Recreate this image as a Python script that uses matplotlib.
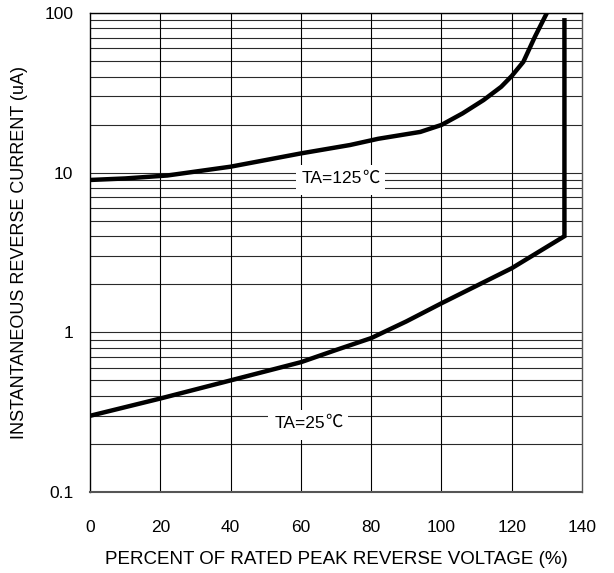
import numpy as np
import matplotlib
matplotlib.use("Agg")
import matplotlib.pyplot as plt
from matplotlib.patches import Rectangle
from matplotlib.transforms import Bbox

plt.rcParams['font.family'] = ['Liberation Sans', 'Noto Sans CJK SC', 'DejaVu Sans']

# values
pct_125 = [0, 10, 22, 40, 60, 74, 82, 94, 100, 106, 112, 117, 120, 123.3, 126.6, 130]
cur_125 = [9.0, 9.2, 9.6, 10.9, 13.2, 14.9, 16.3, 18.0, 19.9, 23.5, 28.5, 34.5, 40.3, 49.4, 71, 100]

pct_25 = [0, 20, 40, 60, 70, 80, 90, 100, 120, 135, 135]
cur_25 = [0.30, 0.385, 0.50, 0.65, 0.775, 0.92, 1.17, 1.52, 2.52, 4.0, 90]

x_ticks = [0, 20, 40, 60, 80, 100, 120, 140]
y_ticks = [0.1, 1, 10, 100]
y_ticklabels = ['0.1', '1', '10', '100']

fig = plt.figure(figsize=(6.14, 5.73), dpi=100)
ax = fig.add_axes([90/614, 1-492/573, 492/614, 479/573])

ax.set_yscale('log')
ax.set_xlim(0, 140)
ax.set_ylim(0.1, 100)

# grid: every minor decade step and every 20 %
for dec in [0.1, 1, 10]:
    for m in range(1, 10):
        ax.axhline(dec*m, color='#2a2a2a', lw=0.8, zorder=1)
ax.axhline(100, color='#2a2a2a', lw=0.8, zorder=1)
for xv in x_ticks[1:-1]:
    ax.axvline(xv, color='black', lw=0.8, zorder=1)

ax.plot(pct_125, cur_125, color='black', lw=3.2, solid_capstyle='butt', zorder=3)
ax.plot(pct_25, cur_25, color='black', lw=3.2, solid_joinstyle='miter', zorder=3)

labels = []
for x, y, txt in [(60.2, 8.57, 'TA=125'), (52.4, 0.252, 'TA=25')]:
    t = ax.text(x, y, txt, fontsize=12.5, ha='left', va='baseline', zorder=4)
    c = ax.annotate('\u2103', xy=(1, 0), xycoords=t, ha='left', va='bottom',
                    fontsize=12.5, family=['Noto Sans CJK SC'], zorder=4)
    labels.append((t, c))

ax.set_xticks(x_ticks)
ax.set_xticklabels([str(v) for v in x_ticks])
ax.set_yticks(y_ticks)
ax.set_yticklabels(y_ticklabels)
ax.yaxis.set_minor_locator(matplotlib.ticker.NullLocator())
ax.tick_params(axis='both', length=0, labelsize=12.5)
ax.tick_params(axis='x', pad=20)
ax.tick_params(axis='y', pad=12)

for s in ax.spines.values():
    s.set_linewidth(1.0)
ax.spines['bottom'].set_color('#555555')
ax.spines['right'].set_color('#555555')
ax.spines['bottom'].set_linewidth(1.5)

ax.set_xlabel('PERCENT OF RATED PEAK REVERSE VOLTAGE (%)', fontsize=13.5, va='top')
ax.xaxis.set_label_coords(0.5, -(551 - 492) / 479)
ax.set_ylabel('INSTANTANEOUS REVERSE CURRENT (uA)', fontsize=13)
ax.yaxis.set_label_coords((28 - 90) / 492, 0.5)

# white patch behind each label, sized from the rendered text
fig.canvas.draw()
inv = ax.transAxes.inverted()
for t, c in labels:
    bb = Bbox.union([t.get_window_extent(), c.get_window_extent()])
    (x0, y0), (x1, y1) = inv.transform([[bb.x0 - 6, bb.y0 - 9], [bb.x1 + 6, bb.y1 + 3]])
    ax.add_patch(Rectangle((x0, y0), x1 - x0, y1 - y0, transform=ax.transAxes,
                           facecolor='white', edgecolor='none', zorder=3.5))

fig.savefig('out.png', dpi=100)
